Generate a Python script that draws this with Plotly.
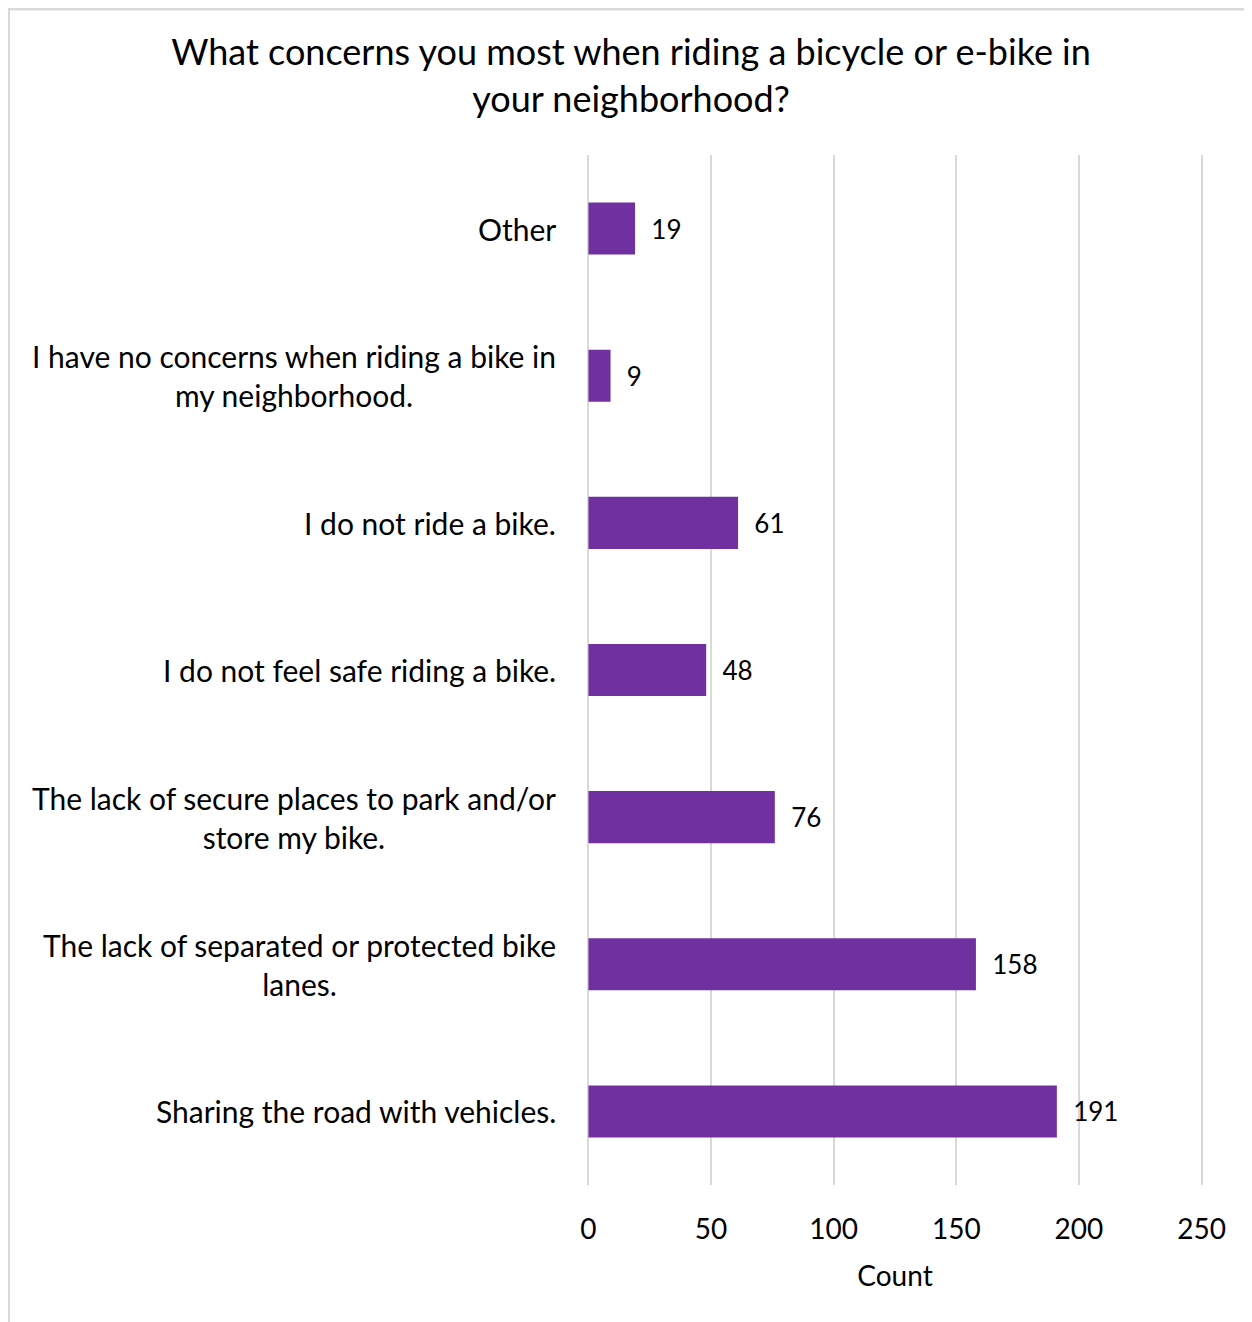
import plotly.graph_objects as go

categories = [
    "Other",
    "I have no concerns when riding a bike in<br>my neighborhood.",
    "I do not ride a bike.",
    "I do not feel safe riding a bike.",
    "The lack of secure places to park and/or<br>store my bike.",
    "The lack of separated or protected bike<br>lanes.",
    "Sharing the road with vehicles.",
]
counts = [19, 9, 61, 48, 76, 158, 191]
x_ticks = [0, 50, 100, 150, 200, 250]

OFF = 8  # page body offset
W, H = 1252 - OFF, 1322 - OFF
L = 578
R = 48
T = 155 - OFF
B = H - (1185 - OFF)
FONT = "Lato, sans-serif"
COLOR = "#7030A0"

fig = go.Figure(go.Bar(
    y=categories, x=counts, orientation="h",
    marker=dict(color=COLOR, line=dict(width=0)),
    text=counts, texttemplate="  %{x}", textposition="outside",
    textfont=dict(size=26, color="#000000", family=FONT),
    cliponaxis=False,
))

PW = W - L - R
for c in categories:
    fig.add_annotation(x=-28 / PW, xref="paper", y=c, yref="y",
                       text=c, showarrow=False, xanchor="right", align="center",
                       font=dict(size=30, color="#000000", family=FONT))

def px_x(p):
    return (p - OFF - L) / PW

def px_y(p):
    return 1 - (p - OFF - T) / (H - T - B)

fig.add_shape(type="line", xref="paper", yref="paper",
              x0=px_x(8), x1=px_x(1260), y0=px_y(9), y1=px_y(9),
              line=dict(color="#d9d9d9", width=3))
fig.add_shape(type="line", xref="paper", yref="paper",
              x0=px_x(9), x1=px_x(9), y0=px_y(8), y1=px_y(1330),
              line=dict(color="#d9d9d9", width=2))

fig.update_layout(
    width=W, height=H,
    margin=dict(l=L, r=R, t=T, b=B),
    paper_bgcolor="white", plot_bgcolor="white",
    bargap=0.646,
    showlegend=False,
    title=dict(text="What concerns you most when riding a bicycle or e-bike in<br>your neighborhood?",
               x=(631 - OFF) / W, xanchor="center", y=1 - 57 / H, yanchor="top",
               font=dict(size=36, color="#000000", family=FONT)),
    xaxis=dict(range=[-1, 251], tickvals=x_ticks, showgrid=True,
               gridcolor="#d9d9d9", gridwidth=2, zeroline=False,
               showline=False, ticks="", ticklabelstandoff=25,
               tickfont=dict(size=28, color="#000000", family=FONT),
               title=dict(text="Count", standoff=22,
                          font=dict(size=28, color="#000000", family=FONT))),
    yaxis=dict(autorange="reversed", showticklabels=False, showgrid=False,
               zeroline=False, showline=False, ticks=""),
    font=dict(family=FONT),
)

fig.write_html("out.html")
